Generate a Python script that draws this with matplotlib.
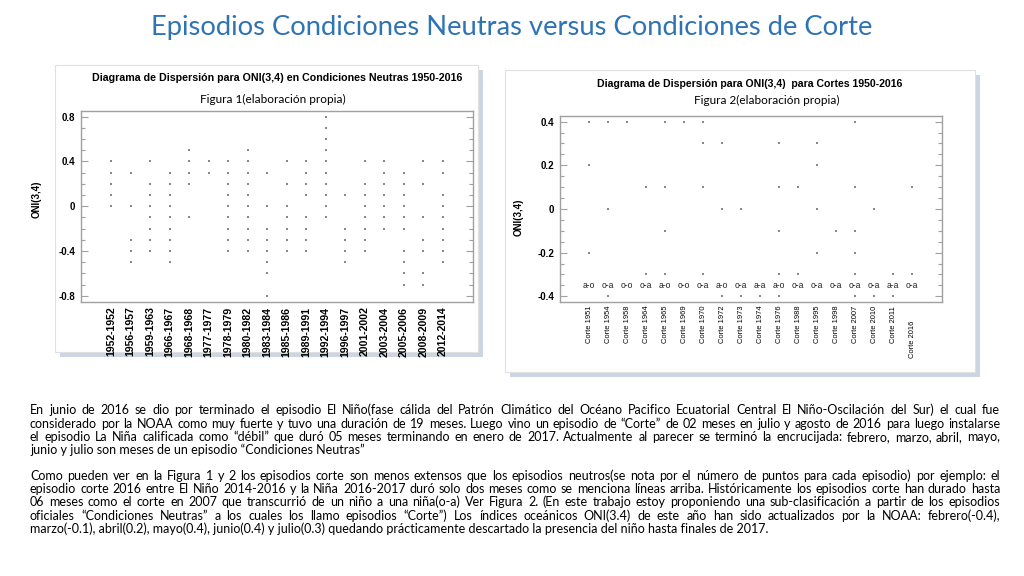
import matplotlib
matplotlib.use('Agg')
import matplotlib.pyplot as plt
import matplotlib.transforms as mtransforms
from matplotlib.patches import Rectangle
from matplotlib.ticker import MultipleLocator

W, H = 1024, 576

# Figura 1: episodios neutros
neutral_periods = ['1952-1952', '1956-1957', '1959-1963', '1966-1967', '1968-1968', '1977-1977',
                   '1978-1979', '1980-1982', '1983-1984', '1985-1986', '1989-1991', '1992-1994',
                   '1996-1997', '2001-2002', '2003-2004', '2005-2006', '2008-2009', '2012-2014']
neutral_oni = [
    [0.4, 0.3, 0.2, 0.1, 0.0],
    [0.3, 0.0, -0.3, -0.4, -0.5],
    [0.4, 0.2, 0.1, 0.0, -0.1, -0.2, -0.3, -0.4],
    [0.3, 0.2, 0.1, 0.0, -0.1, -0.2, -0.3, -0.4, -0.5],
    [0.5, 0.4, 0.3, 0.2, -0.1],
    [0.4, 0.3],
    [0.4, 0.3, 0.2, 0.1, 0.0, -0.1, -0.2, -0.3, -0.4],
    [0.5, 0.4, 0.3, 0.2, 0.1, 0.0, -0.1, -0.2, -0.3, -0.4],
    [0.3, 0.0, -0.2, -0.3, -0.4, -0.5, -0.6, -0.8],
    [0.4, 0.2, 0.0, -0.1, -0.2, -0.3, -0.4],
    [0.4, 0.3, 0.2, 0.1, -0.1, -0.2, -0.3, -0.4],
    [0.8, 0.7, 0.6, 0.5, 0.4, 0.3, 0.2, 0.1, 0.0, -0.1],
    [0.1, -0.2, -0.3, -0.4, -0.5],
    [0.4, 0.2, 0.1, 0.0, -0.1, -0.2, -0.3, -0.4],
    [0.4, 0.3, 0.2, 0.1, 0.0, -0.1, -0.2],
    [0.3, 0.2, 0.1, 0.0, -0.1, -0.2, -0.4, -0.5, -0.6, -0.7],
    [0.4, 0.2, -0.1, -0.3, -0.4, -0.6, -0.7],
    [0.4, 0.3, 0.1, 0.0, -0.1, -0.2, -0.3, -0.4, -0.5],
]

# Figura 2: episodios corte
cut_names = ['Corte 1951', 'Corte 1954', 'Corte 1958', 'Corte 1964', 'Corte 1965', 'Corte 1969',
             'Corte 1970', 'Corte 1972', 'Corte 1973', 'Corte 1974', 'Corte 1976', 'Corte 1988',
             'Corte 1995', 'Corte 1998', 'Corte 2007', 'Corte 2010', 'Corte 2011', 'Corte 2016']
cut_transition = ['a-o', 'o-a', 'o-o', 'o-a', 'a-o', 'o-o', 'o-a', 'a-o', 'o-a',
                  'a-a', 'a-o', 'o-a', 'o-a', 'o-a', 'o-a', 'o-a', 'a-a', 'o-a']
cut_oni = [
    [0.4, 0.2, -0.2],
    [0.4, 0.0, -0.4],
    [0.4],
    [0.1, -0.3],
    [0.4, 0.1, -0.1, -0.3],
    [0.4],
    [0.4, 0.3, 0.1, -0.3],
    [0.3, 0.0, -0.4],
    [0.0, -0.4],
    [-0.4],
    [0.3, 0.1, -0.1, -0.3, -0.4],
    [0.1, -0.3],
    [0.3, 0.2, 0.0, -0.2],
    [-0.1],
    [0.4, 0.1, -0.1, -0.2, -0.3, -0.4],
    [0.0, -0.4],
    [-0.3, -0.4],
    [0.1, -0.3],
]

title = 'Episodios Condiciones Neutras versus Condiciones de Corte'
paragraph1 = [
    'En junio de 2016 se dio por terminado el episodio El Niño(fase cálida del Patrón Climático del Océano Pacifico Ecuatorial Central El Niño-Oscilación del Sur) el cual fue',
    'considerado por la NOAA como muy fuerte y tuvo una duración de 19 meses. Luego vino un episodio de “Corte” de 02 meses en julio y agosto de 2016 para luego instalarse',
    'el episodio La Niña calificada como “débil” que duró 05 meses terminando en enero de 2017. Actualmente al parecer se terminó la encrucijada: febrero, marzo, abril, mayo,',
    'junio y julio son meses de un episodio “Condiciones Neutras”',
]
paragraph2 = [
    'Como pueden ver en la Figura 1 y 2 los episodios corte son menos extensos que los episodios neutros(se nota por el número de puntos para cada episodio) por ejemplo: el',
    'episodio corte 2016 entre El Niño 2014-2016 y la Niña 2016-2017 duró solo dos meses como se menciona líneas arriba. Históricamente los episodios corte han durado hasta',
    '06 meses como el corte en 2007 que transcurrió de un niño a una niña(o-a) Ver Figura 2. (En este trabajo estoy proponiendo una sub-clasificación a partir de los episodios',
    'oficiales “Condiciones Neutras”  a los cuales los llamo episodios  “Corte”) Los índices oceánicos ONI(3.4) de este año han sido actualizados por la NOAA: febrero(-0.4),',
    'marzo(-0.1), abril(0.2), mayo(0.4), junio(0.4) y julio(0.3) quedando prácticamente descartado la presencia del niño hasta finales de 2017.',
]

DOT = '#858796'
FRAME = '#a0a0a0'
BODY_FONT = 'Lato'
CHART_FONT = 'Liberation Sans'


def fx(x):
    return x / W


def fy(y):
    return 1 - y / H


def panel(fig, x0, y0, x1, y1):
    # image frame with a soft shadow on the right/bottom
    fig.patches.append(Rectangle((fx(x0 + 5), fy(y1 + 5)), fx(x1 - x0), (y1 - y0) / H,
                                 transform=fig.transFigure, facecolor='#cbd5e3', edgecolor='none', zorder=-2))
    fig.patches.append(Rectangle((fx(x0), fy(y1)), fx(x1 - x0), (y1 - y0) / H,
                                 transform=fig.transFigure, facecolor='white', edgecolor='#e0e0e0',
                                 linewidth=0.8, zorder=-1))


def scatter_axes(ax, groups, ylim, major, minor):
    ax.set_zorder(1)
    for i, vals in enumerate(groups):
        ax.plot([i] * len(vals), vals, linestyle='none', marker='s', markersize=2.1,
                color=DOT, markeredgewidth=0)
    ax.set_xlim(-1.54, len(groups) - 1 + 1.55)
    ax.set_ylim(*ylim)
    ax.yaxis.set_major_locator(MultipleLocator(major))
    ax.yaxis.set_minor_locator(MultipleLocator(minor))
    ax.tick_params(axis='y', which='both', direction='in', left=True, right=True, colors=FRAME,
                   labelcolor='black')
    ax.tick_params(axis='y', which='major', length=5, width=0.8)
    ax.tick_params(axis='y', which='minor', length=3, width=0.8)
    ax.tick_params(axis='x', length=0)
    for s in ax.spines.values():
        s.set_color(FRAME)
        s.set_linewidth(1.0)
    ax.set_xticks(range(len(groups)))


fig = plt.figure(figsize=(W / 100, H / 100), dpi=100)
fig.patch.set_facecolor('white')

fig.text(fx(512), fy(28), title, ha='center', va='center', fontsize=19.7,
         color='#2E74B5', family=BODY_FONT)

panel(fig, 55, 65, 478, 352)
panel(fig, 505, 70, 975, 372)

# left chart
ax1 = fig.add_axes([fx(81), fy(301.7), (473 - 81) / W, (301.7 - 110.7) / H])
scatter_axes(ax1, neutral_oni, (-0.853, 0.853), 0.4, 0.1)
ax1.set_yticks([-0.8, -0.4, 0, 0.4, 0.8])
ax1.set_yticklabels(['-0.8', '-0.4', '0', '0.4', '0.8'], fontsize=7, fontweight='bold', family=CHART_FONT)
ax1.set_xticklabels(neutral_periods, rotation=90, fontsize=7.6, fontweight='bold', family=CHART_FONT)
ax1.tick_params(axis='x', pad=3.5)
ax1.tick_params(axis='y', pad=4)
fig.text(fx(37), fy(199), 'ONI(3,4)', rotation=90, ha='center', va='center', fontsize=7,
         fontweight='bold', family=CHART_FONT)
fig.text(fx(277), fy(78), 'Diagrama de Dispersión para ONI(3,4) en Condiciones Neutras 1950-2016',
         ha='center', va='center', fontsize=7.7, fontweight='bold', family=CHART_FONT)
fig.text(fx(273), fy(99), 'Figura 1(elaboración propia)', ha='center', va='center',
         fontsize=8.5, family=BODY_FONT)

# right chart
ax2 = fig.add_axes([fx(560), fy(301.7), (941.7 - 560) / W, (301.7 - 116) / H])
scatter_axes(ax2, cut_oni, (-0.425, 0.426), 0.2, 0.05)
ax2.set_yticks([-0.4, -0.2, 0, 0.2, 0.4])
ax2.set_yticklabels(['-0.4', '-0.2', '0', '0.2', '0.4'], fontsize=7, fontweight='bold', family=CHART_FONT)
ax2.set_xticklabels(cut_names, rotation=90, fontsize=5.4, family=CHART_FONT)
ax2.tick_params(axis='x', pad=3)
ax2.tick_params(axis='y', pad=4)
last = ax2.get_xticklabels()[-1]
last.set_transform(last.get_transform() + mtransforms.ScaledTranslation(0, -0.15, fig.dpi_scale_trans))
for i, t in enumerate(cut_transition):
    ax2.text(i, -0.35, t, ha='center', va='center', fontsize=6.2, color='#222222', family=CHART_FONT)
fig.text(fx(519), fy(217), 'ONI(3,4)', rotation=90, ha='center', va='center', fontsize=7,
         fontweight='bold', family=CHART_FONT)
fig.text(fx(750), fy(84), 'Diagrama de Dispersión para ONI(3,4)  para Cortes 1950-2016',
         ha='center', va='center', fontsize=7.6, fontweight='bold', family=CHART_FONT)
fig.text(fx(767), fy(100), 'Figura 2(elaboración propia)', ha='center', va='center',
         fontsize=8.5, family=BODY_FONT)

# justified body text
renderer = fig.canvas.get_renderer()
BODY_SIZE = 9.0


def justified(lines, y_start, dy, x0=30, x1=1000):
    for k, line in enumerate(lines):
        y = fy(y_start + k * dy)
        if k == len(lines) - 1:
            fig.text(fx(x0), y, line, ha='left', va='baseline', fontsize=BODY_SIZE, family=BODY_FONT)
            continue
        words = line.split()
        texts = [fig.text(0, y, w, ha='left', va='baseline', fontsize=BODY_SIZE, family=BODY_FONT)
                 for w in words]
        widths = [t.get_window_extent(renderer).width for t in texts]
        gap = (x1 - x0 - sum(widths)) / (len(words) - 1)
        x = x0
        for t, w in zip(texts, widths):
            t.set_x(fx(x))
            x += w + gap


justified(paragraph1, 414.5, 13.2)
justified(paragraph2, 479.5, 13.4)

fig.savefig('out.png', dpi=100, facecolor='white')
